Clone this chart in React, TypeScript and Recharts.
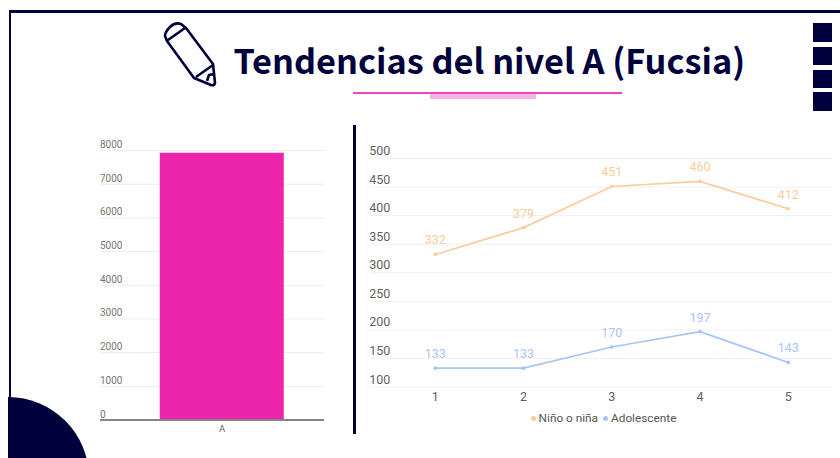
import {
  BarChart,
  Bar,
  LineChart,
  Line,
  XAxis,
  YAxis,
  CartesianGrid,
  Legend,
  LabelList,
} from "recharts";

const NAVY = "#00003c";

const barCategories = ["A"];
const barValues = [7930];
const barTicks = [0, 1000, 2000, 3000, 4000, 5000, 6000, 7000, 8000];

const grades = [1, 2, 3, 4, 5];
const ninoValues = [332, 379, 451, 460, 412];
const adolescenteValues = [133, 133, 170, 197, 143];
const lineTicks = [100, 150, 200, 250, 300, 350, 400, 450, 500];

const barData = barCategories.map((name, i) => ({ name, total: barValues[i] }));
const lineData = grades.map((grade, i) => ({
  grade,
  nino: ninoValues[i],
  adolescente: adolescenteValues[i],
}));

// tick labels sit above their gridline, left aligned at the plot edge
const BarTick = ({ x, y, payload }: any) => (
  <text x={x} y={y - 6} dy={3.5} textAnchor="start" fontSize={10} fill="#757575" fontFamily="Roboto">
    {payload.value}
  </text>
);

const LineTick = ({ x, y, payload }: any) => (
  <text x={x} y={y - 8} dy={4.5} textAnchor="start" fontSize={12.5} fill="#616161" fontFamily="Roboto">
    {payload.value}
  </text>
);

const LineLegend = ({ payload }: any) => (
  <div style={{ display: "flex", justifyContent: "center", gap: 5, fontSize: 11.8, lineHeight: "14px", fontFamily: "Roboto", color: "#555", paddingLeft: 5 }}>
    {(payload ?? []).map((item: any) => (
      <span key={item.value} style={{ display: "flex", alignItems: "center", gap: 3 }}>
        <span style={{ width: 5, height: 5, borderRadius: "50%", background: item.color }} />
        {item.value}
      </span>
    ))}
  </div>
);

const box = (left: number, top: number, width: number, height: number, background: string) => ({
  position: "absolute" as const,
  left,
  top,
  width,
  height,
  background,
});

export default function App() {
  return (
    <div style={{ position: "absolute", left: 0, top: 0, width: 840, height: 458, overflow: "hidden", background: "#fff" }}>
      <div style={box(8.5, 10, 832, 2.5, NAVY)} />
      <div style={box(8.5, 10, 2.5, 400, NAVY)} />
      <div style={{ position: "absolute", left: 8, top: 390, width: 90, height: 68, overflow: "hidden" }}>
        <div style={{ ...box(-81, 7, 162, 162, NAVY), borderRadius: "50%" }} />
      </div>

      <svg style={{ position: "absolute", left: 0, top: 0 }} width={240} height={100}>
        <path
          d="M167 41 L165 36 Q165 32 170 27 Q175 22 181 24 L186 28 L213 64 L215 83 Q214 86 211 85 L194 78 Z M168 40 L185 28 M196 77 L213 65 M207 81 L209 75 L214 74"
          fill="none"
          stroke={NAVY}
          strokeWidth={2.6}
          strokeLinejoin="round"
        />
      </svg>

      <div
        style={{
          position: "absolute",
          left: 233.5,
          top: 34,
          fontFamily: "'Noto Sans CJK SC'",
          fontWeight: 700,
          fontSize: 34.3,
          lineHeight: "50px",
          color: NAVY,
          whiteSpace: "nowrap",
        }}
      >
        Tendencias del nivel A (Fucsia)
      </div>

      <div style={box(353, 92, 269, 2, "#ea45c3")} />
      <div style={box(430, 94, 106, 5, "#f5b4e4")} />

      <div style={box(813, 23, 19, 19, NAVY)} />
      <div style={box(813, 47, 19, 18, NAVY)} />
      <div style={box(813, 70, 19, 18, NAVY)} />
      <div style={box(813, 92, 19, 19, NAVY)} />

      <div style={box(353, 125, 3, 309, NAVY)} />

      <div style={{ position: "absolute", left: 60, top: 130 }}>
        <BarChart
          width={290}
          height={310}
          data={barData}
          barCategoryGap="19.5%"
          margin={{ top: 20.5, right: 26, left: 40, bottom: 0 }}
        >
          <CartesianGrid vertical={false} stroke="#ebebeb" />
          <XAxis
            dataKey="name"
            height={20}
            padding={{ left: 20, right: 0 }}
            tickLine={false}
            tickSize={0}
            axisLine={{ stroke: "#858585", strokeWidth: 2 }}
            tick={{ fontSize: 9.5, fill: "#666", fontFamily: "Roboto" }}
            tickMargin={5}
          />
          <YAxis width={1} domain={[0, 8000]} ticks={barTicks} axisLine={false} tickLine={false} tick={<BarTick />} tickMargin={0} tickSize={0} mirror />
          <Bar dataKey="total" fill="#ec23ab" isAnimationActive={false} />
        </BarChart>
      </div>

      <div style={{ position: "absolute", left: 340, top: 130 }}>
        <LineChart
          width={500}
          height={300}
          data={lineData}
          margin={{ top: 28.5, right: 7.3, left: 29.3, bottom: 0 }}
        >
          <CartesianGrid vertical={false} stroke="#f1f1f1" />
          <XAxis
            dataKey="grade"
            scale="point"
            padding={{ left: 66, right: 44.5 }}
            height={30}
            tickLine={false}
            tickSize={0}
            axisLine={false}
            tick={{ fontSize: 12.5, fill: "#616161", fontFamily: "Roboto" }}
            tickMargin={5}
          />
          <YAxis width={1} domain={[100, 500]} ticks={lineTicks} axisLine={false} tickLine={false} tick={<LineTick />} tickMargin={0} tickSize={0} mirror />
          <Legend
            verticalAlign="bottom"
            height={13}
            itemSorter={null}
            wrapperStyle={{ transform: "translateY(-6px)" }}
            content={<LineLegend />}
          />
          <Line
            type="linear"
            dataKey="nino"
            name="Niño o niña"
            stroke="#fdcb9c"
            strokeWidth={1.7}
            dot={{ r: 1, fill: "#fdcb9c" }}
            isAnimationActive={false}
          >
            <LabelList dataKey="nino" position="top" offset={10} fontSize={12.5} fill="#fdcb9c" fontFamily="Roboto" />
          </Line>
          <Line
            type="linear"
            dataKey="adolescente"
            name="Adolescente"
            stroke="#a9c5f5"
            strokeWidth={1.7}
            dot={{ r: 1, fill: "#a9c5f5" }}
            isAnimationActive={false}
          >
            <LabelList dataKey="adolescente" position="top" offset={10} fontSize={12.5} fill="#a9c5f5" fontFamily="Roboto" />
          </Line>
        </LineChart>
      </div>
    </div>
  );
}
